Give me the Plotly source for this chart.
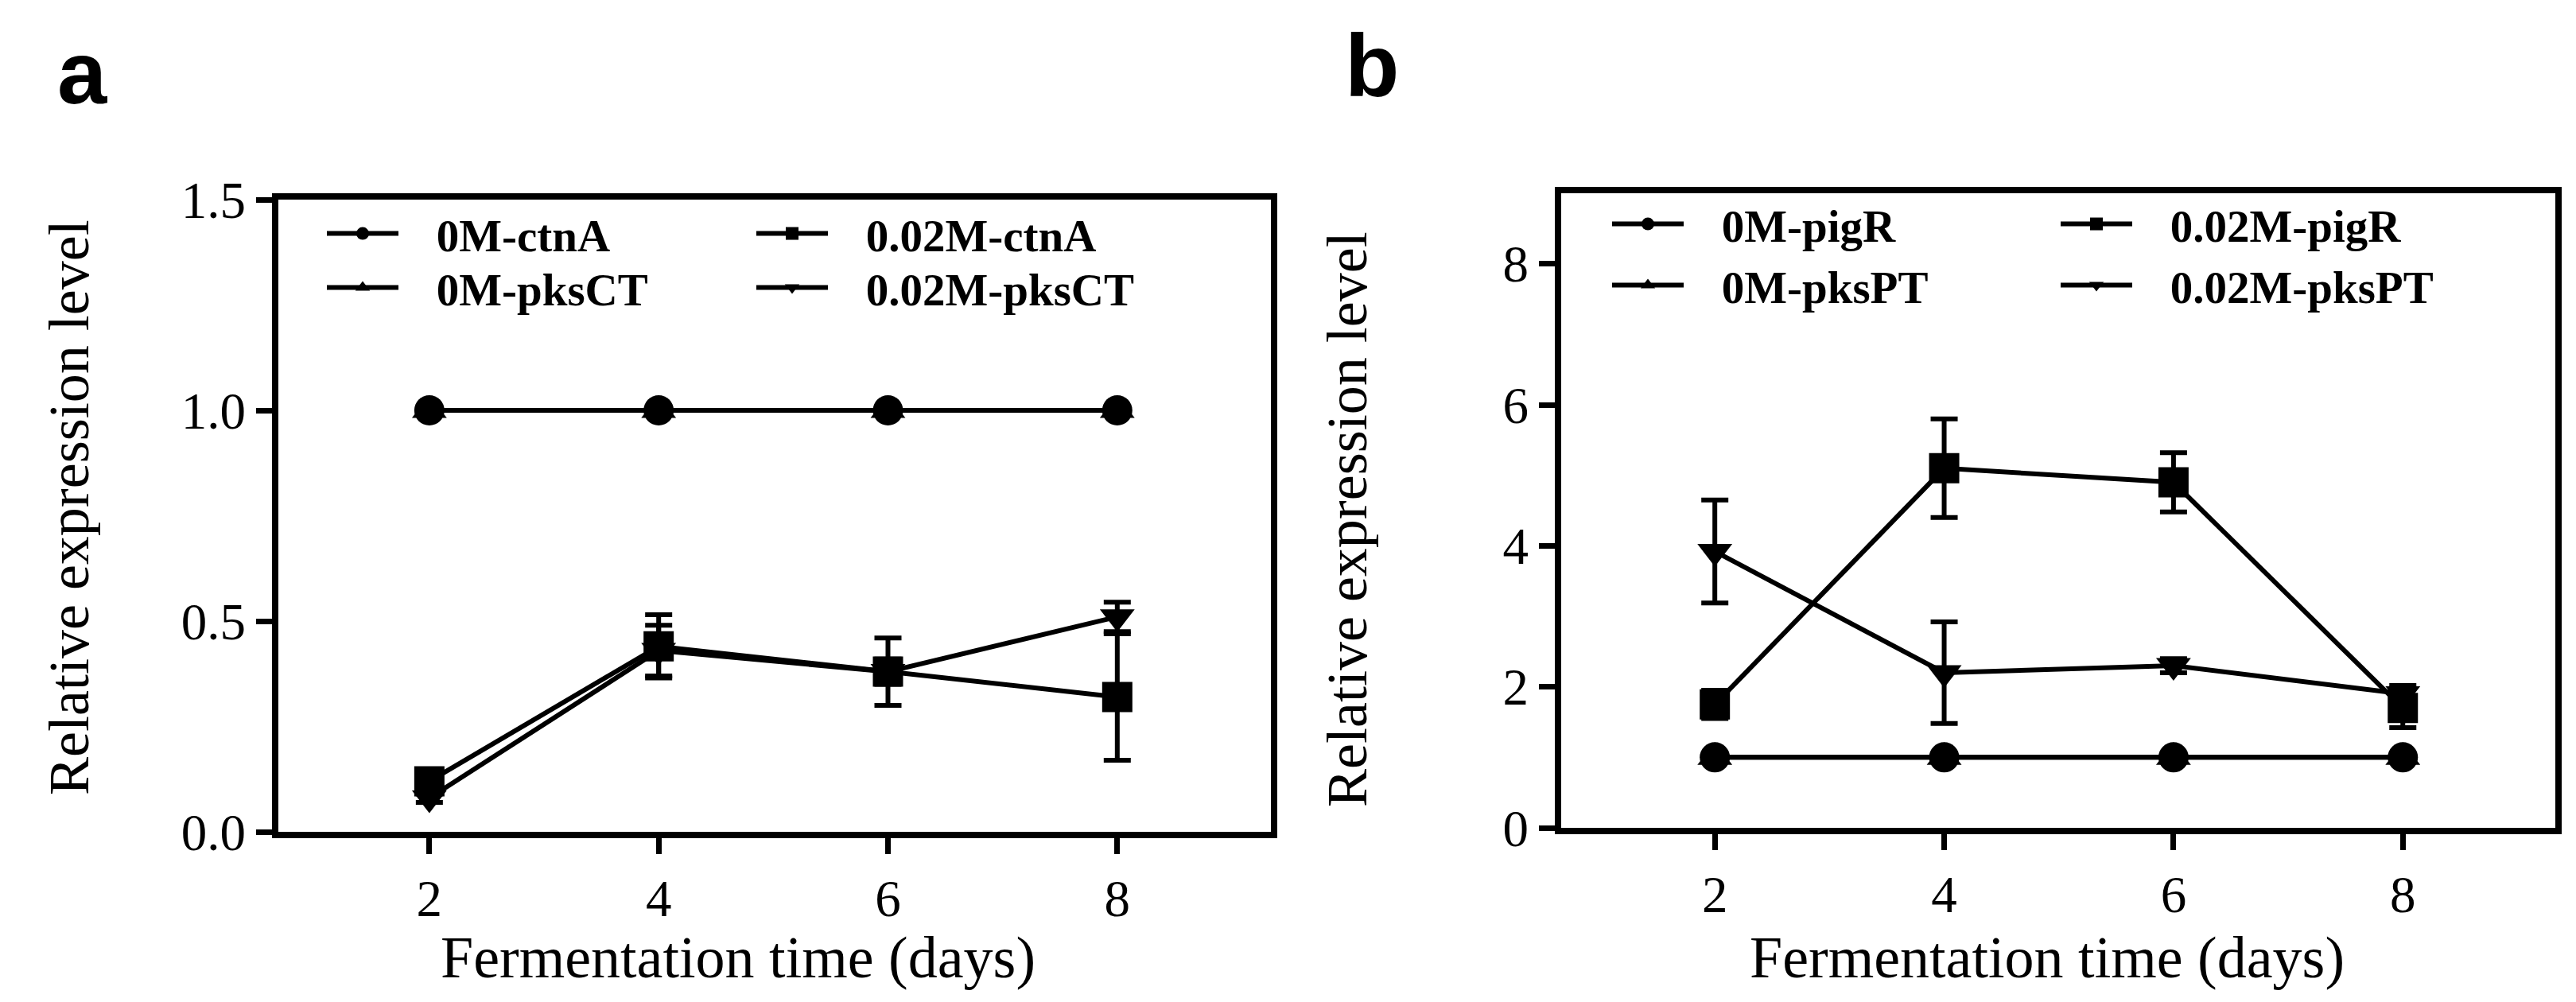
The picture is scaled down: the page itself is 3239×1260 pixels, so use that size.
import plotly.graph_objects as go

days = [2, 4, 6, 8]

# Panel a
a_0M_ctnA = [1.0, 1.0, 1.0, 1.0]
a_0M_ctnA_err = [0.0, 0.0, 0.0, 0.0]
a_0M_pksCT = [1.0, 1.0, 1.0, 1.0]
a_0M_pksCT_err = [0.0, 0.0, 0.0, 0.0]
a_002M_ctnA = [0.12, 0.44, 0.38, 0.32]
a_002M_ctnA_err = [0.02, 0.075, 0.08, 0.15]
a_002M_pksCT = [0.08, 0.43, 0.38, 0.51]
a_002M_pksCT_err = [0.01, 0.06, 0.03, 0.035]

# Panel b
b_0M_pigR = [1.0, 1.0, 1.0, 1.0]
b_0M_pigR_err = [0.0, 0.0, 0.0, 0.0]
b_0M_pksPT = [1.0, 1.0, 1.0, 1.0]
b_0M_pksPT_err = [0.0, 0.0, 0.0, 0.0]
b_002M_pigR = [1.75, 5.1, 4.9, 1.7]
b_002M_pigR_err = [0.2, 0.7, 0.42, 0.28]
b_002M_pksPT = [3.92, 2.2, 2.3, 1.9]
b_002M_pksPT_err = [0.73, 0.72, 0.1, 0.12]

a_yticks = [0.0, 0.5, 1.0, 1.5]
a_yticklabels = ["0.0", "0.5", "1.0", "1.5"]
b_yticks = [0, 2, 4, 6, 8]
x_ticks = [2, 4, 6, 8]

x_title = "Fermentation time (days)"
y_title = "Relative expression level"

SERIF = "Liberation Serif, Times New Roman, serif"
SANS = "Liberation Sans, Arial, sans-serif"
PAD = "\u00a0\u00a0\u00a0"

# geometry (pixels)
W, H = 3239, 1260
L, R, T, B = 342, 34, 235, 222
pw, ph = W - L - R, H - T - B


def pxx(px):
    return (px - L) / pw


def pxy(py):
    return (H - B - py) / ph


fig = go.Figure()


def add(name, y, err, symbol, xa, ya, legend):
    fig.add_trace(go.Scatter(
        x=days, y=y, name=PAD + name, mode="lines+markers",
        xaxis=xa, yaxis=ya, legend=legend,
        line=dict(color="black", width=6),
        marker=dict(symbol=symbol, size=38, color="black"),
        error_y=dict(type="data", array=err, visible=True, thickness=6,
                     width=17, color="black"),
    ))


# panel a (draw order keeps hidden triangle under circles)
add("0M-pksCT", a_0M_pksCT, a_0M_pksCT_err, "triangle-up", "x", "y", "legend2")
add("0M-ctnA", a_0M_ctnA, a_0M_ctnA_err, "circle", "x", "y", "legend")
add("0.02M-pksCT", a_002M_pksCT, a_002M_pksCT_err, "triangle-down", "x", "y", "legend2")
add("0.02M-ctnA", a_002M_ctnA, a_002M_ctnA_err, "square", "x", "y", "legend")

# panel b
add("0M-pksPT", b_0M_pksPT, b_0M_pksPT_err, "triangle-up", "x2", "y2", "legend4")
add("0M-pigR", b_0M_pigR, b_0M_pigR_err, "circle", "x2", "y2", "legend3")
add("0.02M-pksPT", b_002M_pksPT, b_002M_pksPT_err, "triangle-down", "x2", "y2", "legend4")
add("0.02M-pigR", b_002M_pigR, b_002M_pigR_err, "square", "x2", "y2", "legend3")

axis_common = dict(
    showline=True, linecolor="black", linewidth=8, mirror=True,
    ticks="outside", ticklen=20, tickwidth=7, tickcolor="black",
    showgrid=False, zeroline=False,
    tickfont=dict(family=SERIF, size=65, color="black"),
)

leg_common = dict(
    orientation="h", xanchor="left", yanchor="middle",
    font=dict(family=SERIF, size=57, color="black", weight="bold"),
    bgcolor="rgba(0,0,0,0)", itemwidth=90, entrywidthmode="pixels",
    tracegroupgap=0, itemclick=False, itemdoubleclick=False,
)

fig.update_layout(
    width=W, height=H,
    margin=dict(l=L, r=R, t=T, b=B),
    paper_bgcolor="white", plot_bgcolor="white",
    showlegend=True,
    xaxis=dict(axis_common, domain=[0, pxx(1590)], range=[0.683, 9.34],
               tickvals=x_ticks, anchor="y"),
    yaxis=dict(axis_common, domain=[pxy(1038), pxy(243)], range=[0, 1.5],
               tickvals=a_yticks, ticktext=a_yticklabels, anchor="x"),
    xaxis2=dict(axis_common, domain=[pxx(1955), 1], range=[0.66, 9.33],
                tickvals=x_ticks, anchor="y2"),
    yaxis2=dict(axis_common, domain=[pxy(1033), pxy(235)], range=[0, 9],
                tickvals=b_yticks, anchor="x2"),
    legend=dict(leg_common, x=pxx(398), y=pxy(286), entrywidth=435),
    legend2=dict(leg_common, x=pxx(398), y=pxy(354), entrywidth=435),
    legend3=dict(leg_common, x=pxx(2014), y=pxy(274), entrywidth=459),
    legend4=dict(leg_common, x=pxx(2014), y=pxy(351), entrywidth=459),
)

# axis titles
for cx, cy in [(920, 1196), (2566, 1196)]:
    fig.add_annotation(text=x_title, x=pxx(cx), y=pxy(cy), xref="paper", yref="paper",
                       showarrow=False, xanchor="center", yanchor="middle",
                       font=dict(family=SERIF, size=74, color="black"))
for cx, cy in [(79, 630), (1686, 645)]:
    fig.add_annotation(text=y_title, x=pxx(cx), y=pxy(cy), xref="paper", yref="paper",
                       showarrow=False, xanchor="center", yanchor="middle", textangle=-90,
                       font=dict(family=SERIF, size=72, color="black"))

# panel letters
for txt, cx, cy in [("a", 95, 84), ("b", 1717, 74)]:
    fig.add_annotation(text="<b>" + txt + "</b>", x=pxx(cx), y=pxy(cy), xref="paper", yref="paper",
                       showarrow=False, xanchor="center", yanchor="middle",
                       font=dict(family=SANS, size=112, color="black"))

fig.write_html("out.html")
